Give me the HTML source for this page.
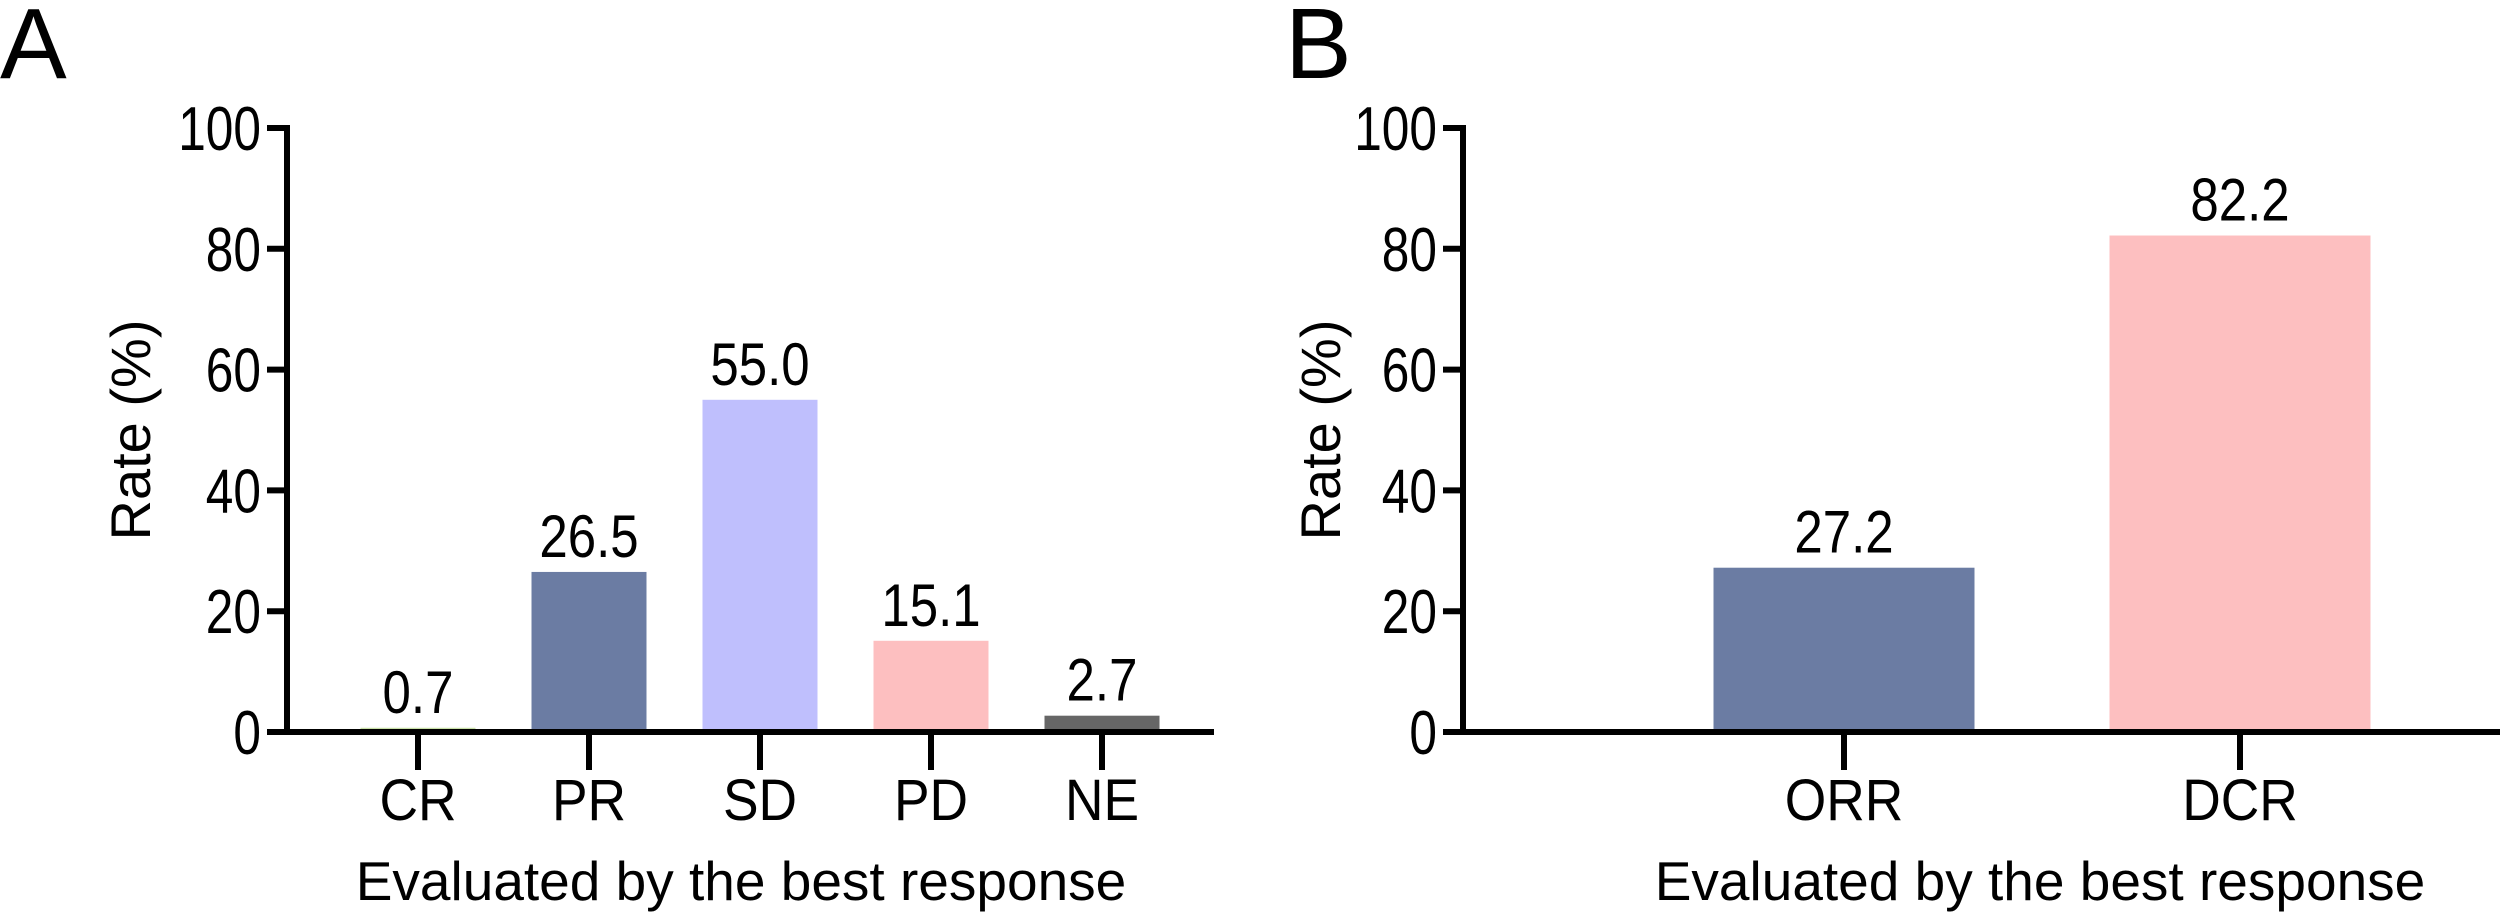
<!DOCTYPE html>
<html><head><meta charset="utf-8"><style>
html,body{margin:0;padding:0;background:#fff;}
svg{display:block;font-family:"Liberation Sans",Arial,sans-serif;}
</style></head><body>
<svg id="chart" width="2500" height="919" viewBox="0 0 2500 919">
<text x="0" y="78" font-size="100">A</text>
<text x="1285" y="78" font-size="100">B</text>
<g id="pa"></g>
<g id="pb"></g>
</svg>
<script>
const catsA = ["CR","PR","SD","PD","NE"];
const valsA = [0.7,26.5,55.0,15.1,2.7];
const labelsA = ["0.7","26.5","55.0","15.1","2.7"];
const colorsA = ["#c9e0a8","#6b7ca3","#bfbffd","#fdbfc0","#666666"];
const catsB = ["ORR","DCR"];
const valsB = [27.2,82.2];
const labelsB = ["27.2","82.2"];
const colorsB = ["#6b7ca3","#fdbfc0"];
const yTicks = [0,20,40,60,80,100];
const NS = "http://www.w3.org/2000/svg";
function mk(tag, attrs, parent, txt){
  const e=document.createElementNS(NS,tag);
  for(const k in attrs) e.setAttribute(k,attrs[k]);
  if(txt!==undefined) e.textContent=txt;
  parent.appendChild(e); return e;
}
function squeeze(t, f){
  const w=t.getComputedTextLength();
  t.setAttribute("textLength", (w*f).toFixed(1));
  t.setAttribute("lengthAdjust","spacingAndGlyphs");
}
function draw(g, cats, vals, labels, colors, ax){
  const y0=732, y1=128;
  const ys=v=>y0-(v/100)*(y0-y1);
  const xs=i=>ax.first+i*ax.step;
  yTicks.forEach(t=>{
    const l=mk("line",{x1:ax.x-20,x2:ax.x,y1:ys(t),y2:ys(t),stroke:"#000","stroke-width":6},g);
    
    
    const tx=mk("text",{x:ax.x-26,y:ys(t)+22,"font-size":62,"text-anchor":"end"},g,String(t));
    
    
    squeeze(tx,0.8);
  });
  cats.forEach((c,i)=>{
    const cx=xs(i);
    const top=ys(vals[i]);
    const b=mk("rect",{x:cx-ax.bw/2,y:top,width:ax.bw,height:Math.max(y0-top,1),fill:colors[i]},g);
    
    
    const vl=mk("text",{x:cx,y:top-15,"font-size":60,"text-anchor":"middle"},g,labels[i]);
    
    
    squeeze(vl,0.85);
    const tk=mk("line",{x1:cx,x2:cx,y1:y0,y2:y0+38,stroke:"#000","stroke-width":6},g);
    
    
    const cl=mk("text",{x:cx,y:820,"font-size":58,"text-anchor":"middle"},g,c);
    
    
    squeeze(cl,0.92);
  });
  const ya=mk("line",{x1:ax.x,x2:ax.x,y1:y1-3,y2:y0+3,stroke:"#000","stroke-width":6},g);
  
  
  const xa=mk("line",{x1:ax.x-20,x2:ax.xend,y1:y0,y2:y0,stroke:"#000","stroke-width":6},g);
  
  
  const yt=mk("text",{x:0,y:0,"font-size":56,"text-anchor":"middle",transform:`translate(${ax.ytx},430) rotate(-90)`},g,"Rate (%)");
  
  
  const xt=mk("text",{x:ax.xtx,y:900,"font-size":55,"text-anchor":"middle"},g,"Evaluated by the best response");
  
  
}
draw(document.getElementById("pa"),catsA,valsA,labelsA,colorsA,{x:287,xend:1214,first:418,step:171,bw:115,ytx:150,xtx:741});
draw(document.getElementById("pb"),catsB,valsB,labelsB,colorsB,{x:1463,xend:2500,first:1844,step:396,bw:261,ytx:1340,xtx:2040});
</script>
</body></html>
